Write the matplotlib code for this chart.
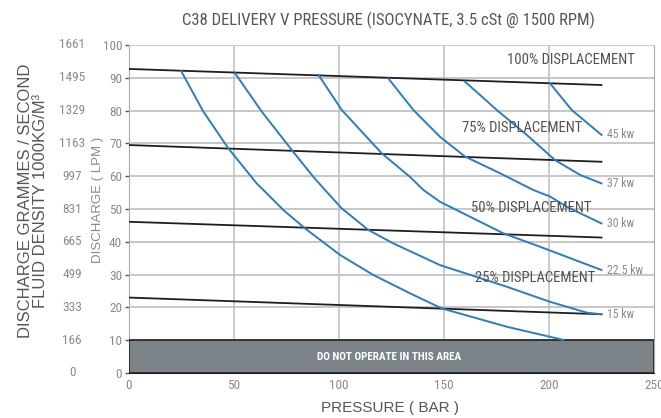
import numpy as np
from matplotlib import pyplot as plt
from matplotlib import font_manager
from matplotlib.patches import Rectangle
from matplotlib.transforms import blended_transform_factory

# displacement lines: (pressure, discharge) at both ends
disp_names = ['100% DISPLACEMENT', '75% DISPLACEMENT', '50% DISPLACEMENT', '25% DISPLACEMENT']
disp_x = [0, 225]
disp_y = [[92.7, 87.8], [69.5, 64.4], [46.1, 41.3], [23.0, 17.9]]
disp_label_pos = [(241, 95.5), (216, 74.7), (220, 50.2), (222, 28.9)]

# power curves
c1_x = [24.8, 35.4, 47.3, 60.8, 64.0, 73.5, 83.8, 100.5, 116.3, 133.8, 148.9, 179.9, 206.8]
c1_y = [92.1, 79.7, 68.5, 57.8, 55.8, 49.7, 44.1, 36.0, 29.9, 24.3, 19.7, 14.1, 10.1]
kw15_x = [50.5, 63.2, 77.5, 87.8, 93.3, 101.3, 114.0, 125.9, 148.1, 179.9, 200.5, 218.0, 225.0]
kw15_y = [91.4, 79.7, 68.0, 59.8, 55.8, 50.2, 43.6, 39.5, 32.9, 26.3, 21.7, 18.4, 17.9]
kw22_x = [90.2, 101.3, 120.3, 133.8, 140.2, 148.1, 178.2, 195.7, 225.0]
kw22_y = [90.9, 80.2, 67.0, 59.8, 55.8, 52.2, 42.6, 38.5, 31.4]
kw30_x = [123.5, 135.4, 148.1, 160.0, 176.7, 192.5, 200.5, 208.4, 225.0]
kw30_y = [89.8, 80.2, 72.0, 66.0, 60.9, 55.8, 53.8, 50.7, 45.6]
kw37_x = [160.0, 167.1, 175.1, 189.4, 202.9, 214.8, 225.0]
kw37_y = [88.8, 84.8, 80.2, 72.6, 64.9, 60.4, 57.8]
kw45_x = [200.5, 210.8, 225.0]
kw45_y = [88.3, 80.2, 72.6]
kw_labels = ['45 kw', '37 kw', '30 kw', '22.5 kw', '15 kw']

y_ticks = [0, 10, 20, 30, 40, 50, 60, 70, 80, 90, 100]
gram_labels = ['0', '166', '333', '499', '665', '831', '997', '1163', '1329', '1495', '1661']
x_ticks = [0, 50, 100, 150, 200, 250]

names = {f.name for f in font_manager.fontManager.ttflist}
narrow = 'Liberation Sans'
for n in ['Liberation Sans Narrow', 'Roboto Condensed', 'Open Sans Condensed', 'Arial Narrow']:
    if n in names:
        narrow = n
        break
wide = 'Liberation Sans' if 'Liberation Sans' in names else 'DejaVu Sans'

blue = '#2b7dc3'
grey_txt = '#8a8a8a'
dark_txt = '#5a5555'

fig = plt.figure(figsize=(6.61, 4.18), dpi=100)
ax = fig.add_axes([129 / 661, 1 - 373 / 418, 525 / 661, 328 / 418])
ax.set_xlim(0, 250)
ax.set_ylim(0, 100)

for v in [50, 100, 150, 200]:
    ax.axvline(v, color='#c8ccd2', lw=1.4, zorder=1)
for v in range(10, 100, 10):
    ax.axhline(v, color='#bdbdbd', lw=1.2, zorder=1)

ax.add_patch(Rectangle((0, 0), 250, 10, facecolor='#7c8389', edgecolor='#222222',
                       lw=1.2, zorder=3))
ax.text(124, 5, 'DO NOT OPERATE IN THIS AREA', color='white', fontsize=8,
        fontweight='bold', ha='center', va='center', family=narrow, zorder=4)

for name, ys, pos in zip(disp_names, disp_y, disp_label_pos):
    ax.plot(disp_x, ys, color='#1e1e1e', lw=1.3, zorder=4)
    ax.text(pos[0], pos[1], name, ha='right', va='center', fontsize=10.5,
            color='#555050', family=narrow, zorder=5)

curves = [(kw45_x, kw45_y), (kw37_x, kw37_y), (kw30_x, kw30_y),
          (kw22_x, kw22_y), (kw15_x, kw15_y)]
ax.plot(c1_x, c1_y, color=blue, lw=1.4, zorder=4)
for (cx, cy), lab in zip(curves, kw_labels):
    ax.plot(cx, cy, color=blue, lw=1.4, zorder=4)
    ax.text(227.5, cy[-1], lab, ha='left', va='center', fontsize=8.5,
            color=grey_txt, family=narrow)

ax.set_yticks(y_ticks)
ax.set_xticks(x_ticks)
ax.tick_params(axis='y', length=3, width=1, color='#555555', pad=2,
               labelsize=9.5, labelcolor=grey_txt)
ax.tick_params(axis='x', length=0, pad=4, labelsize=9.5, labelcolor=grey_txt)
for lab in ax.get_xticklabels() + ax.get_yticklabels():
    lab.set_family(narrow)

ax.spines['left'].set_color('#aaaaaa')
ax.spines['bottom'].set_color('#222222')
ax.spines['top'].set_color('#cccccc')
ax.spines['right'].set_color('#aaaaaa')

trans = blended_transform_factory(ax.transAxes, ax.transData)
for v, lab in zip(y_ticks, gram_labels):
    ax.text(-57 / 525, v, lab, transform=trans, ha='center', va='center',
            fontsize=9.5, color=grey_txt, family=narrow)

fig.text(388 / 661, 1 - 20 / 418, 'C38 DELIVERY V PRESSURE (ISOCYNATE, 3.5 cSt @ 1500 RPM)',
         ha='center', va='center', fontsize=12, color=dark_txt, family=narrow)
fig.text(390 / 661, 1 - 408 / 418, 'PRESSURE ( BAR )', ha='center', va='center',
         fontsize=11, color=dark_txt, family=wide)
fig.text(98 / 661, 1 - 200 / 418, 'DISCHARGE ( LPM )', ha='center', va='center',
         rotation=90, fontsize=9.5, color=grey_txt, family=wide)
fig.text(26 / 661, 1 - 201 / 418, 'DISCHARGE GRAMMES / SECOND', ha='center', va='center',
         rotation=90, fontsize=12, color=dark_txt, family=wide)
fig.text(41 / 661, 1 - 201 / 418, 'FLUID DENSITY 1000KG/M³', ha='center', va='center',
         rotation=90, fontsize=12, color=dark_txt, family=wide)

fig.savefig('out.png', dpi=100)
